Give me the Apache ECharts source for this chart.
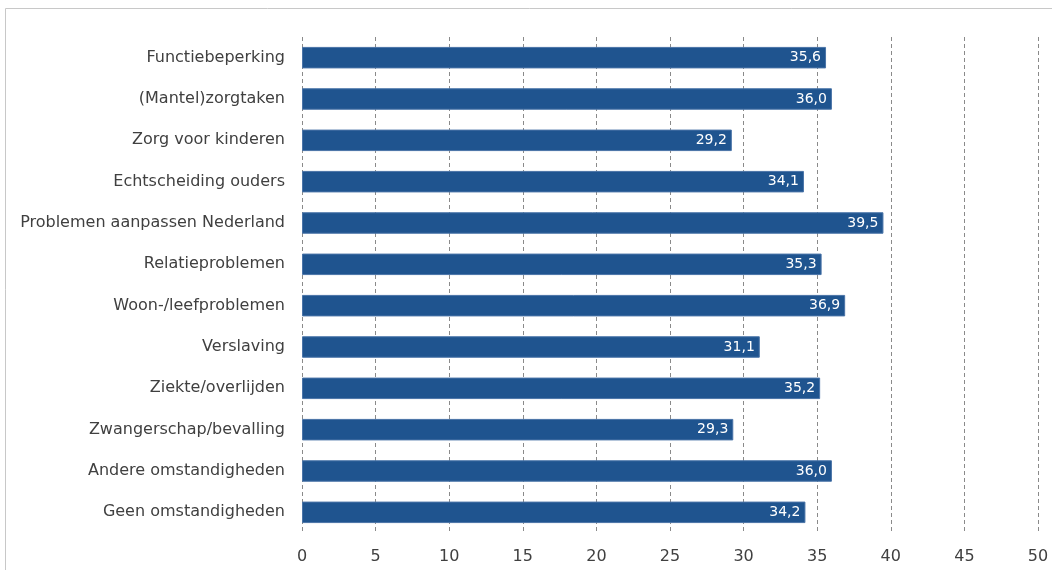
<!DOCTYPE html>
<html><head><meta charset="utf-8">
<script src="https://cdn.jsdelivr.net/npm/echarts@6/dist/echarts.min.js"></script>
<style>html,body{margin:0;padding:0;background:#fff}#c{width:1052px;height:570px}</style>
</head><body><div id="c"></div>
<script>
const categories = ["Functiebeperking","(Mantel)zorgtaken","Zorg voor kinderen","Echtscheiding ouders","Problemen aanpassen Nederland","Relatieproblemen","Woon-/leefproblemen","Verslaving","Ziekte/overlijden","Zwangerschap/bevalling","Andere omstandigheden","Geen omstandigheden"];
const values = [35.6,36.0,29.2,34.1,39.5,35.3,36.9,31.1,35.2,29.3,36.0,34.2];
const xTicks = [0,5,10,15,20,25,30,35,40,45,50];

const chart = echarts.init(document.getElementById('c'), null, {renderer:'canvas'});
const font = 'DejaVu Sans';
chart.setOption({
  animation:false,
  graphic:[{type:'rect',shape:{x:5.5,y:8.5,width:1100,height:600},style:{fill:'none',stroke:'#c8c8c8',lineWidth:1},silent:true,z:-1}],
  grid:{left:302,right:14,top:37,bottom:37,containLabel:false},
  xAxis:{type:'value',min:xTicks[0],max:xTicks[xTicks.length-1],interval:5,
    axisLine:{show:false},axisTick:{show:false},
    axisLabel:{color:'#404040',fontFamily:font,fontSize:16,margin:16},
    splitLine:{show:true,lineStyle:{type:[4,3],color:'#8a8a8a',width:1}}},
  yAxis:{type:'category',data:categories,inverse:true,
    axisLine:{show:false},axisTick:{show:false},
    axisLabel:{color:'#404040',fontFamily:font,fontSize:16,margin:17}},
  series:[{type:'bar',data:values,barWidth:'52%',
    itemStyle:{color:'#1f548f',borderColor:'#4a74a8',borderWidth:1},
    label:{show:true,position:'insideRight',distance:5,color:'#fff',fontFamily:font,fontSize:14,
      formatter:p=>p.value.toFixed(1).replace('.',',')}}]
});
</script></body></html>
